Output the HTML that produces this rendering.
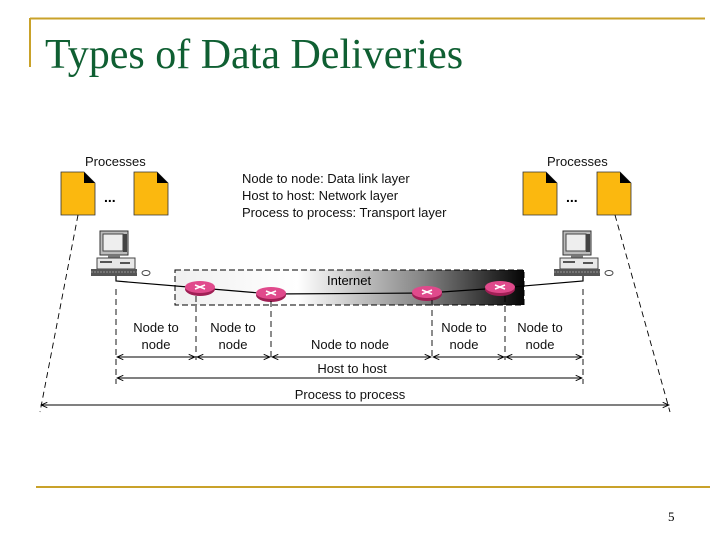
<!DOCTYPE html>
<html><head><meta charset="utf-8"><style>
body{margin:0;width:720px;height:540px;background:#fff;position:relative;overflow:hidden;font-family:"Liberation Sans",sans-serif}
</style></head><body>
<svg width="720" height="540" viewBox="0 0 720 540" style="position:absolute;left:0;top:0">
<defs>
<linearGradient id="g" x1="0" x2="1" y1="0" y2="0">
<stop offset="0" stop-color="#f0f0f0"/><stop offset="0.35" stop-color="#ffffff"/><stop offset="0.7" stop-color="#888"/><stop offset="1" stop-color="#050505"/>
</linearGradient>
<marker id="a" markerWidth="8" markerHeight="8" refX="7" refY="4" orient="auto"><path d="M0,1 L7,4 L0,7" fill="none" stroke="#000" stroke-width="1"/></marker>
<marker id="b" markerWidth="8" markerHeight="8" refX="1" refY="4" orient="auto"><path d="M8,1 L1,4 L8,7" fill="none" stroke="#000" stroke-width="1"/></marker>
<g id="doc"><path d="M0,0 H23 L34,11 V43 H0 Z" fill="#fbb80f" stroke="#333" stroke-width="0.8"/><path d="M23,0 L34,11 H23 Z" fill="#000"/></g>
<g id="pc">
<rect x="10" y="0" width="28" height="24" fill="#bbb" stroke="#333"/><rect x="13" y="3" width="20" height="17" fill="#eee" stroke="#444"/><rect x="33" y="3" width="4" height="18" fill="#444"/>
<rect x="18" y="24" width="12" height="3" fill="#777"/>
<rect x="7" y="27" width="38" height="11" fill="#e8e8e8" stroke="#444"/><rect x="10" y="30" width="12" height="2" fill="#555"/><rect x="30" y="31" width="10" height="2" fill="#555"/>
<rect x="1" y="38" width="46" height="7" fill="#555"/><path d="M1,41 H47" stroke="#aaa" stroke-width="0.8" stroke-dasharray="2,1"/>
<ellipse cx="56" cy="42" rx="4" ry="2.5" fill="#fff" stroke="#444"/>
</g>
<g id="rt"><ellipse cx="0" cy="2" rx="15" ry="7" fill="#a01f55"/><ellipse cx="0" cy="0" rx="15" ry="6" fill="#e04a8c"/><path d="M-5,-2 L5,2 M-5,2 L5,-2" stroke="#fff" stroke-width="1.5"/></g>
</defs>
<line x1="30" y1="18.5" x2="705" y2="18.5" stroke="#c9a22a" stroke-width="2"/>
<line x1="30" y1="18" x2="30" y2="67" stroke="#c9a22a" stroke-width="2"/>
<line x1="36" y1="487" x2="710" y2="487" stroke="#c9a22a" stroke-width="2"/>
<text x="45" y="68" font-family="Liberation Serif,serif" font-size="42" fill="#0f5f32">Types of Data Deliveries</text>
<text x="668" y="521" font-family="Liberation Serif,serif" font-size="13">5</text>

<g font-size="13" fill="#111">
<text x="85" y="166">Processes</text><text x="547" y="166">Processes</text>
<text x="242" y="183">Node to node: Data link layer</text>
<text x="242" y="200">Host to host: Network layer</text>
<text x="242" y="217">Process to process: Transport layer</text>
</g>
<use href="#doc" x="61" y="172"/><use href="#doc" x="134" y="172"/>
<use href="#doc" x="523" y="172"/><use href="#doc" x="597" y="172"/>
<text x="104" y="202" font-size="14" font-weight="bold">...</text>
<text x="566" y="202" font-size="14" font-weight="bold">...</text>
<use href="#pc" x="90" y="231"/><use href="#pc" x="553" y="231"/>

<rect x="175" y="270" width="349" height="35" fill="url(#g)" stroke="#000" stroke-dasharray="6,3"/>
<text x="327" y="285" font-size="13">Internet</text>
<polyline points="116,276 116,281 200,288 271,294 427,293 500,288 583,281 583,276" fill="none" stroke="#000" stroke-width="1.2"/>
<use href="#rt" x="200" y="287"/><use href="#rt" x="271" y="293"/><use href="#rt" x="427" y="292"/><use href="#rt" x="500" y="287"/>

<g stroke="#000" stroke-dasharray="6,4" stroke-width="0.9">
<line x1="116" y1="289" x2="116" y2="384"/><line x1="583" y1="289" x2="583" y2="384"/>
<line x1="196" y1="296" x2="196" y2="360"/><line x1="271" y1="301" x2="271" y2="360"/>
<line x1="432" y1="300" x2="432" y2="360"/><line x1="505" y1="296" x2="505" y2="360"/>
<line x1="78" y1="215" x2="40" y2="412"/><line x1="615" y1="215" x2="670" y2="412"/>
</g>
<g stroke="#000" stroke-width="0.9" marker-start="url(#b)" marker-end="url(#a)">
<line x1="117" y1="357" x2="195" y2="357"/><line x1="197" y1="357" x2="270" y2="357"/>
<line x1="272" y1="357" x2="431" y2="357"/><line x1="433" y1="357" x2="504" y2="357"/>
<line x1="506" y1="357" x2="582" y2="357"/>
<line x1="117" y1="378" x2="582" y2="378"/>
<line x1="41" y1="405" x2="669" y2="405"/>
</g>
<g font-size="13" text-anchor="middle" fill="#111">
<text x="156" y="332">Node to</text><text x="156" y="349">node</text>
<text x="233" y="332">Node to</text><text x="233" y="349">node</text>
<text x="350" y="349">Node to node</text>
<text x="464" y="332">Node to</text><text x="464" y="349">node</text>
<text x="540" y="332">Node to</text><text x="540" y="349">node</text>
<text x="352" y="373">Host to host</text>
<text x="350" y="399">Process to process</text>
</g>
</svg>
</body></html>
